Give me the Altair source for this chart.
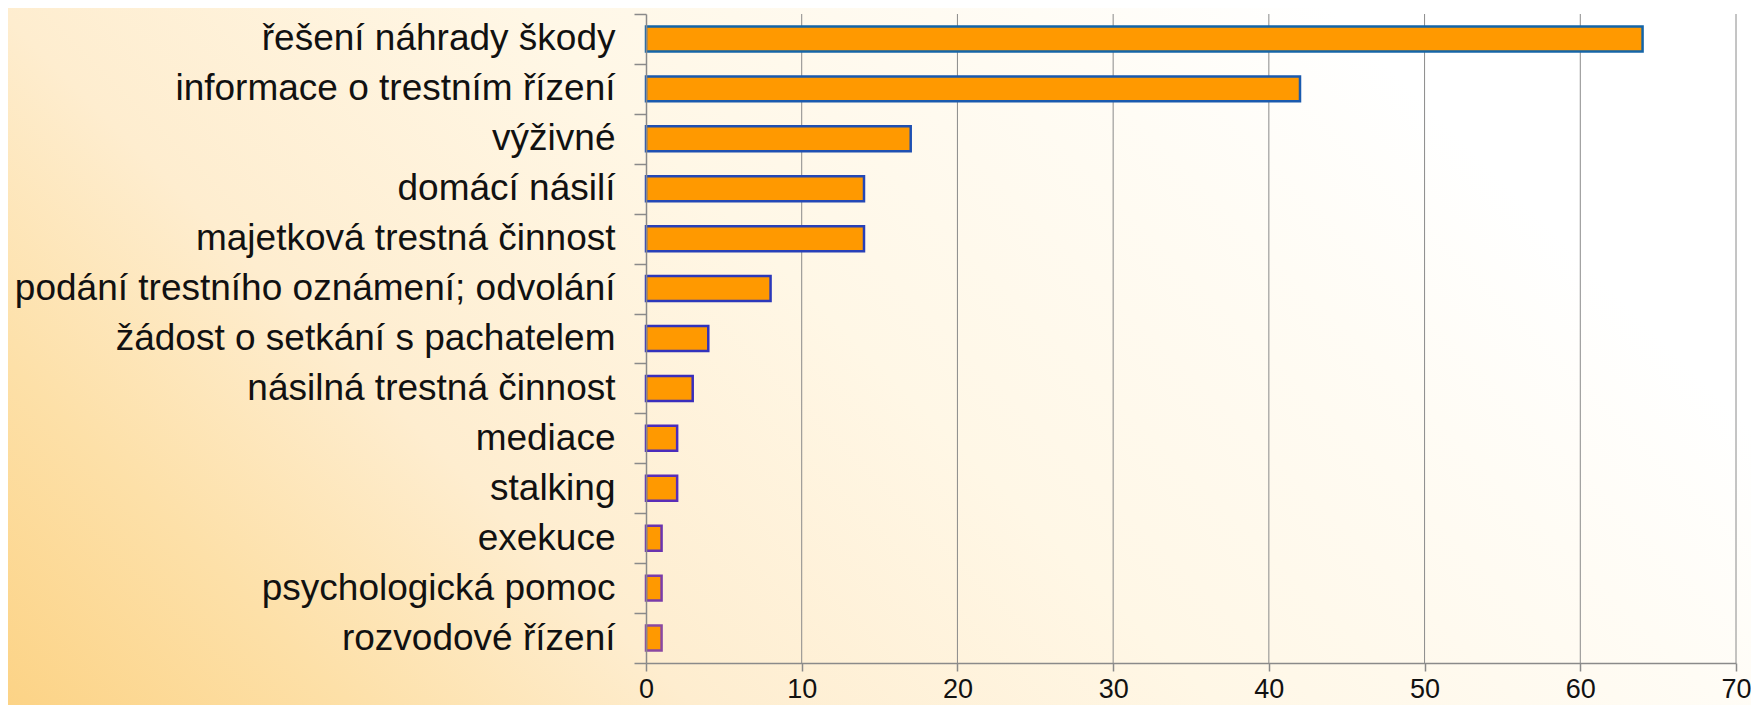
import altair as alt
import pandas as pd

categories = [
    "řešení náhrady škody",
    "informace o trestním řízení",
    "výživné",
    "domácí násilí",
    "majetková trestná činnost",
    "podání trestního oznámení; odvolání",
    "žádost o setkání s pachatelem",
    "násilná trestná činnost",
    "mediace",
    "stalking",
    "exekuce",
    "psychologická pomoc",
    "rozvodové řízení",
]
values = [64, 42, 17, 14, 14, 8, 4, 3, 2, 2, 1, 1, 1]
x_ticks = [0, 10, 20, 30, 40, 50, 60, 70]
grid_ticks = [10, 20, 30, 40, 50, 60, 70]

stroke_colors = [
    "#1565a8", "#1a5aae", "#1f50b2", "#2448b6", "#2840b8", "#2c38ba",
    "#3232bc", "#3a2ebc", "#4a2cbc", "#5a2eb8", "#6a34b0", "#7a3caa", "#8a48a2",
]

W, H = 1090, 649
PAD = {"left": 638, "top": 6, "right": 15, "bottom": 42}

df = pd.DataFrame({"cat": categories, "val": values})
grid_df = pd.DataFrame({"val": grid_ticks})

x_scale = alt.Scale(domain=[0, 70], nice=False)

bg = alt.Chart(pd.DataFrame({"a": [0]})).mark_rect(
    color=alt.LinearGradient(
        gradient="linear",
        x1=0, y1=1, x2=1, y2=0.6,
        stops=[
            alt.GradientStop(color="#FCD386", offset=0),
            alt.GradientStop(color="#FDE0A8", offset=0.17),
            alt.GradientStop(color="#FEEDCF", offset=0.34),
            alt.GradientStop(color="#FFF7E6", offset=0.6),
            alt.GradientStop(color="#FFFCF5", offset=0.85),
            alt.GradientStop(color="#FFFFFF", offset=1),
        ],
    )
).encode(
    x=alt.value(-PAD["left"]),
    x2=alt.value(W + PAD["right"]),
    y=alt.value(-PAD["top"]),
    y2=alt.value(H + PAD["bottom"]),
)

grid = alt.Chart(grid_df).mark_rule(color="#8a8a8a", strokeWidth=1).encode(
    x=alt.X("val:Q", scale=x_scale),
    y=alt.value(0),
    y2=alt.value(H),
)

bars = alt.Chart(df).mark_bar(
    fill="#FF9900", strokeWidth=2.5, height=alt.RelativeBandSize(0.5)
).encode(
    y=alt.Y(
        "cat:N",
        sort=categories,
        title=None,
        scale=alt.Scale(paddingInner=0, paddingOuter=0),
        axis=alt.Axis(
            tickBand="extent",
            labelFontSize=37,
            labelFont="Liberation Sans",
            labelColor="#111111",
            labelPadding=19,
            labelLimit=800,
            tickSize=12,
            tickColor="#8a8a8a",
            tickWidth=1.5,
            domainColor="#8a8a8a",
            domainWidth=1.5,
            grid=False,
            zindex=1,
        ),
    ),
    x=alt.X(
        "val:Q",
        title=None,
        scale=x_scale,
        axis=alt.Axis(
            values=x_ticks,
            grid=False,
            labelFlush=False,
            labelFontSize=27,
            labelFont="Liberation Sans",
            labelColor="#111111",
            labelPadding=5,
            tickSize=8,
            tickColor="#8a8a8a",
            tickWidth=1.5,
            domainColor="#8a8a8a",
            domainWidth=1.5,
            zindex=1,
        ),
    ),
    stroke=alt.Stroke(
        "cat:N",
        scale=alt.Scale(domain=categories, range=stroke_colors),
        legend=None,
    ),
)

chart = alt.layer(bg, grid, bars).properties(
    width=W,
    height=H,
    padding=PAD,
    autosize=alt.AutoSizeParams(type="none"),
).configure_view(stroke=None)

chart.save("out.html", embed_options={"renderer": "svg", "actions": False})
